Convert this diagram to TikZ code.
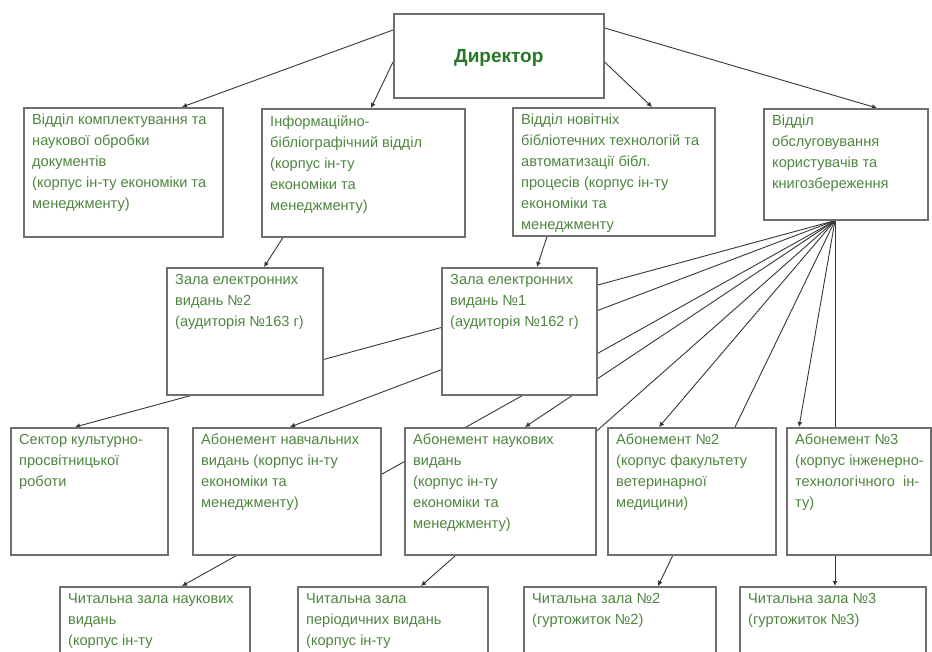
\documentclass[tikz,border=0pt]{standalone}
\usepackage{fontspec}
\setmainfont{Liberation Sans}
\usetikzlibrary{arrows.meta,shadows}
\pgfdeclarelayer{background}
\pgfsetlayers{background,main}
\definecolor{txtgreen}{RGB}{78,134,64}
\definecolor{dirgreen}{RGB}{38,120,38}
\definecolor{boxline}{RGB}{112,112,112}
\definecolor{conline}{RGB}{55,55,55}
\tikzset{
  orgb/.style={draw=boxline, line width=1.6pt, fill=white, rectangle, inner sep=0pt,
    drop shadow={opacity=0.18, shadow xshift=1pt, shadow yshift=-1pt}},
  orgt/.style={anchor=north west, inner sep=0pt, align=left, text=txtgreen,
    font=\fontsize{14.6}{21}\selectfont},
  conn/.style={draw=conline, line width=0.9pt},
  arr/.style={conn, -{Latex[length=5pt,width=5pt]}},
}
\newcommand\orgbox[5]{\node[orgb, minimum width={#4-#2}, minimum height={#5-#3}, anchor=north west] (#1) at (#2,#3) {};}
\newcommand\orgtext[2]{\node[orgt] (#1t) at ([xshift=9pt,yshift=-7pt]#1.north west) {#2};}
\begin{document}
\begin{tikzpicture}[x=1pt,y=-1pt]
\useasboundingbox (0,0) rectangle (932,652);
\clip (0,0) rectangle (932,652);
\begin{pgfonlayer}{background}
\fill[white] (0,0) rectangle (932,652);
\end{pgfonlayer}
% boxes
\orgbox{dir}{393}{13}{603}{97}
\node[text=dirgreen, font=\fontsize{19}{22}\selectfont\bfseries] (dirt) at ([yshift=-2pt]dir.center) {Директор};
\orgbox{A}{23}{107}{222}{236}
\orgtext{A}{Відділ комплектування та\\наукової обробки\\документів\\(корпус ін-ту економіки та\\ менеджменту)}
\orgbox{B}{261}{108}{464}{236}
\orgtext{B}{Інформаційно-\\бібліографічний відділ\\(корпус ін-ту\\економіки та\\менеджменту)}
\orgbox{C}{512}{107}{714}{235}
\orgtext{C}{Відділ новітніх\\бібліотечних технологій та\\автоматизації бібл.\\процесів (корпус ін-ту\\економіки та\\менеджменту}
\orgbox{D}{763}{108}{927}{219}
\orgtext{D}{Відділ\\обслуговування\\користувачів та\\книгозбереження}
\orgbox{E}{166}{267}{322}{394}
\orgtext{E}{Зала електронних\\видань №2\\(аудиторія №163 г)}
\orgbox{F}{441}{267}{596}{394}
\orgtext{F}{Зала електронних\\видань №1\\(аудиторія №162 г)}
\orgbox{S}{10}{427}{167}{554}
\orgtext{S}{Сектор культурно-\\просвітницької\\роботи}
\orgbox{Na}{192}{427}{380}{554}
\orgtext{Na}{Абонемент навчальних\\видань (корпус ін-ту\\економіки та\\менеджменту)}
\orgbox{Nb}{404}{427}{595}{554}
\orgtext{Nb}{Абонемент наукових\\видань\\(корпус ін-ту\\економіки та\\менеджменту)}
\orgbox{Nc}{607}{427}{775}{554}
\orgtext{Nc}{Абонемент №2\\(корпус факультету\\ветеринарної\\медицини)}
\orgbox{Nd}{786}{427}{930}{554}
\orgtext{Nd}{Абонемент №3\\(корпус інженерно-\\технологічного\ \ ін-\\ту)}
\orgbox{Ra}{59}{586}{249}{700}
\orgtext{Ra}{Читальна зала наукових\\видань\\(корпус ін-ту}
\orgbox{Rb}{297}{586}{487}{700}
\orgtext{Rb}{Читальна зала\\періодичних видань\\(корпус ін-ту}
\orgbox{Rc}{523}{586}{715}{700}
\orgtext{Rc}{Читальна зала №2\\(гуртожиток №2)}
\orgbox{Rd}{739}{586}{925}{700}
\orgtext{Rd}{Читальна зала №3\\(гуртожиток №3)}
% connectors
\begin{pgfonlayer}{background}
\draw[arr] ([yshift=-17pt]dir.north west) -- ([xshift=159pt]A.north west);
\draw[arr] ([yshift=-49pt]dir.north west) -- ([xshift=110pt]B.north west);
\draw[arr] ([yshift=-49pt]dir.north east) -- ([xshift=140pt]C.north west);
\draw[arr] ([yshift=-15pt]dir.north east) -- ([xshift=114pt]D.north west);
\draw[arr] ([xshift=22pt]B.south west) -- ([xshift=98pt]E.north west);
\draw[arr] ([xshift=35pt]C.south west) -- ([xshift=96pt]F.north west);
\coordinate (fan) at ([xshift=72pt]D.south west);
\draw[arr] (fan) -- ([xshift=65pt]S.north west);
\draw[arr] (fan) -- ([xshift=98pt]Na.north west);
\draw[arr] (fan) -- ([xshift=123pt]Ra.north west);
\draw[arr] (fan) -- ([xshift=121pt]Nb.north west);
\draw[arr] (fan) -- ([xshift=124pt]Rb.north west);
\draw[arr] (fan) -- ([xshift=52pt]Nc.north west);
\draw[arr] (fan) -- ([xshift=135pt]Rc.north west);
\draw[arr] (fan) -- ([xshift=13pt]Nd.north west);
\draw[arr] (fan) -- ([xshift=96pt]Rd.north west);
\end{pgfonlayer}
\end{tikzpicture}
\end{document}
